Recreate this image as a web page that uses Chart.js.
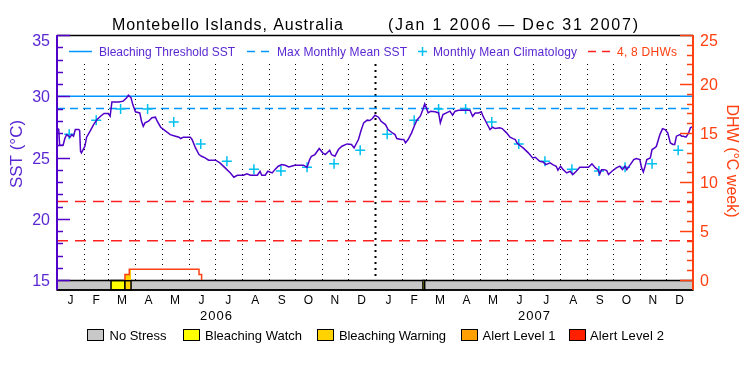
<!DOCTYPE html>
<html>
<head>
<meta charset="utf-8">
<script src="https://cdn.jsdelivr.net/npm/chart.js@4.4.0/dist/chart.umd.min.js"></script>
<style>
	html, body { margin: 0; padding: 0; background: #fff; }
</style>
</head>
<body>
<canvas id="sstChart" width="750" height="375"></canvas>
<script>
let months = ["J", "F", "M", "A", "M", "J", "J", "A", "S", "O", "N", "D"];
let years = [2006, 2007];

// daily SST, days counted from Jan 1 2006
let sstDays = [0, 2, 3, 7, 9, 11, 15, 17, 19, 21, 25, 26, 27, 28, 30, 32, 34, 38, 42, 46, 50, 54, 59, 61, 63, 71, 76, 80, 82, 85, 87, 90, 95, 97, 99, 101, 105, 109, 113, 115, 119, 124, 130, 136, 140, 142, 145, 153, 155, 159, 163, 166, 170, 174, 182, 187, 193, 199, 203, 207, 214, 218, 222, 230, 233, 235, 239, 242, 247,
	250, 254, 258, 262, 266, 269, 273, 283, 287, 290, 292, 296, 301, 305, 308, 313, 315, 319, 323, 327, 333, 338, 341, 343, 346, 349, 352, 356, 359, 362, 365, 369, 372, 377, 380, 384, 388, 390, 395, 398, 400, 403, 407, 410, 413, 417, 420, 422, 424, 426, 429, 434, 438, 440, 443, 447, 451, 454, 457, 461, 474, 477, 480, 484, 487, 489, 491,
	495, 497, 500, 503, 508, 511, 516, 520, 524, 526, 528, 531, 535, 541, 546, 549, 554, 558, 561, 566, 569, 573, 575, 578, 581, 585, 589, 592, 596, 600, 610, 614, 618, 621, 623, 625, 628, 631, 633, 637, 642, 646, 649, 652, 654, 658, 662, 665, 669, 671, 673, 675, 677, 681, 683, 686, 688, 692, 695, 698, 701, 704, 707, 709, 711, 715, 717, 719, 722, 725, 727, 729];
let sstValues = [27.40, 27.30, 26.00, 26.00, 26.55, 26.87, 26.66, 26.87, 26.74, 27.28, 27.28, 27.20, 25.50, 25.38, 25.65, 25.92, 26.66, 27.15, 27.69, 28.10, 28.37, 28.59, 28.59, 28.37, 29.54, 29.54, 29.60, 29.87, 30.09, 29.87, 29.32, 28.73, 28.64, 27.96, 27.55, 27.83, 27.96, 28.24, 28.29, 27.96, 27.47, 27.20, 26.87, 26.74, 26.66, 26.55, 26.66, 26.66, 26.47, 25.78, 25.24, 25.10, 24.97, 24.78, 24.78, 24.56, 24.15, 23.74, 23.39, 23.55, 23.55, 23.66, 23.55, 23.55, 23.88, 23.55, 23.55, 23.88, 23.74,
	24.01, 24.29, 24.42, 24.37, 24.23, 24.29, 24.37, 24.37, 24.20, 24.83, 25.10, 25.24, 25.73, 25.38, 25.24, 25.59, 25.24, 25.10, 25.65, 25.92, 26.11, 26.06, 25.78, 26.06, 26.47, 27.20, 27.83, 28.05, 28.02, 28.18, 28.45, 28.29, 27.96, 27.69, 27.28, 27.06, 26.87, 26.55, 26.47, 26.47, 26.19, 26.47, 27.01, 27.55, 28.05, 28.37, 28.92, 29.38, 29.05, 28.64, 28.78, 28.73, 28.64, 27.83, 28.50, 28.64, 28.78, 28.45, 28.78, 28.86, 28.86, 28.37, 28.64, 28.64, 28.73, 28.37, 28.10,
	27.55, 27.28, 27.47, 27.36, 27.42, 27.36, 27.01, 26.66, 26.52, 26.47, 26.19, 26.00, 25.78, 25.38, 24.97, 25.02, 24.69, 24.64, 24.42, 24.56, 24.42, 24.29, 23.96, 24.29, 24.01, 23.74, 23.88, 23.61, 23.88, 24.20, 24.20, 24.48, 24.15, 24.01, 23.66, 24.01, 24.01, 23.93, 23.61, 23.88, 24.15, 24.29, 24.01, 24.29, 24.01, 24.42, 24.83, 24.91, 24.83, 24.15, 23.82, 24.29, 24.83, 24.97, 25.65, 25.78, 25.92, 26.87, 27.36, 27.28, 27.01, 26.19, 26.06, 26.06, 26.74, 26.87, 26.74, 26.74, 26.66, 27.01, 27.42, 27.50];

// monthly mean climatology, Jan..Dec
let climValues = [26.9, 28.05, 28.95, 28.95, 27.9, 26.1, 24.7, 24.05, 23.9, 24.2, 24.5, 25.6];

let bleachThreshold = 30.0;
let maxMonthlyMean = 29.0;
let dhwLevels = [4, 8];

// degree heating weeks
let dhwDays = [78, 78, 83, 85, 163, 166];
let dhwValues = [0, 0.55, 1.1, 1.1, 0.55, 0];

// stress level periods
let stressNames = ["No Stress", "Bleaching Watch", "Bleaching Warning", "Alert Level 1", "Alert Level 2"];
let stressColors = ["#c8c8c8", "#ffff00", "#ffd200", "#ffa000", "#ff2000"];
let stressStart = [62, 78, 420];
let stressEnd = [78, 85, 422];
let stressLevel = [1, 2, 1];

let sstTicks = [15, 20, 25, 30, 35];
let dhwTicks = [0, 5, 10, 15, 20, 25];

const PURPLE = "#5000c8";
const PURPLE_TXT = "#5a28d2";
const ORANGE = "#ff4010";
const FONT = "'Liberation Sans', Arial, sans-serif";

const dayOf = (y, m, d) => Math.round((Date.UTC(y, m, d) - Date.UTC(2006, 0, 1)) / 86400000);

let monthStarts = [];
years.forEach((y) => {
	for (let m = 0; m < 12; m++) monthStarts.push(dayOf(y, m, 1));
});
monthStarts.push(dayOf(2008, 0, 1));

let climPoints = [];
years.forEach((y) => {
	climValues.forEach((v, m) => climPoints.push({ x: dayOf(y, m, 15), y: v }));
});

let sstPoints = sstDays.map((d, i) => ({ x: d, y: sstValues[i] }));
let dhwPoints = dhwDays.map((d, i) => ({ x: d, y: dhwValues[i] }));
let lastDay = monthStarts[monthStarts.length - 1];

const flat = (v) => [{ x: 0, y: v }, { x: lastDay, y: v }];

// DHW area under the curve coloured by stress level
let fillSets = [];
stressStart.forEach((s, i) => {
	let pts = dhwPoints.filter((p) => p.x >= s && p.x <= stressEnd[i]);
	if (!pts.length) return;
	pts.push({ x: stressEnd[i], y: 0 });
	fillSets.push({
		data: pts,
		yAxisID: "y1",
		stepped: true,
		fill: "origin",
		backgroundColor: stressColors[stressLevel[i]],
		borderWidth: 0,
		pointRadius: 0,
		order: 6,
	});
});

function drawText(ctx, text, x, y, size, color, width, align) {
	ctx.save();
	ctx.font = size + "px " + FONT;
	ctx.fillStyle = color;
	ctx.textBaseline = "alphabetic";
	ctx.textAlign = "left";
	ctx.letterSpacing = "0px";
	let w = ctx.measureText(text).width;
	if (width) {
		let ls = (width - w) / Math.max(text.length - 1, 1);
		ctx.letterSpacing = ls + "px";
		w = width;
	}
	let left = align === "center" ? x - w / 2 : align === "right" ? x - w : x;
	ctx.fillText(text, left, y);
	ctx.restore();
}

function hLine(ctx, x1, x2, y, color, width, dash) {
	ctx.save();
	ctx.strokeStyle = color;
	ctx.lineWidth = width;
	ctx.setLineDash(dash || []);
	ctx.beginPath();
	ctx.moveTo(x1, y);
	ctx.lineTo(x2, y);
	ctx.stroke();
	ctx.restore();
}

const decor = {
	id: "decor",
	beforeDraw(chart) {
		const ctx = chart.ctx;
		ctx.save();
		ctx.fillStyle = "#fff";
		ctx.fillRect(0, 0, chart.width, chart.height);
		ctx.restore();
	},
	beforeDatasetsDraw(chart) {
		const ctx = chart.ctx;
		const { x, y } = chart.scales;
		const area = chart.chartArea;
		const barTop = Math.round(y.getPixelForValue(sstTicks[0])) + 0.5;
		const barBottom = area.bottom;

		// month grid
		ctx.save();
		ctx.strokeStyle = "#000";
		monthStarts.forEach((d) => {
			if (d === 0 || d === lastDay) return;
			let px = Math.round(x.getPixelForValue(d)) + 0.5;
			let yearLine = d === dayOf(2007, 0, 1);
			ctx.lineWidth = yearLine ? 2 : 1;
			ctx.setLineDash(yearLine ? [2, 4] : [1, 4]);
			ctx.beginPath();
			ctx.moveTo(px, 64);
			ctx.lineTo(px, barTop);
			ctx.stroke();
		});
		ctx.restore();

		// stress bar
		ctx.save();
		ctx.fillStyle = stressColors[0];
		ctx.fillRect(area.left, barTop, area.right - area.left, barBottom - barTop);
		ctx.strokeStyle = "#000";
		ctx.lineWidth = 1.5;
		stressStart.forEach((s, i) => {
			let x1 = x.getPixelForValue(s);
			let x2 = x.getPixelForValue(stressEnd[i]);
			ctx.fillStyle = stressColors[stressLevel[i]];
			ctx.fillRect(x1, barTop, x2 - x1, barBottom - barTop);
			ctx.strokeRect(x1, barTop, x2 - x1, barBottom - barTop);
		});
		ctx.strokeRect(area.left, barTop, area.right - area.left, barBottom - barTop);
		ctx.restore();
	},
	afterDatasetsDraw(chart) {
		const ctx = chart.ctx;
		const { x, y, y1 } = chart.scales;
		const area = chart.chartArea;

		// frame
		hLine(ctx, area.left, area.right, area.top + 0.5, "#000", 1.5);
		hLine(ctx, area.left, area.right, area.bottom, "#000", 1.5);

		// left SST axis
		ctx.save();
		ctx.strokeStyle = PURPLE;
		ctx.lineWidth = 2;
		ctx.beginPath();
		ctx.moveTo(area.left, area.top);
		ctx.lineTo(area.left, area.bottom);
		ctx.stroke();
		ctx.lineWidth = 1.5;
		for (let v = sstTicks[0]; v <= sstTicks[sstTicks.length - 1]; v++) {
			let py = Math.round(y.getPixelForValue(v)) + 0.5;
			let len = sstTicks.includes(v) ? 13 : 6;
			ctx.beginPath();
			ctx.moveTo(area.left, py);
			ctx.lineTo(area.left + len, py);
			ctx.stroke();
		}
		ctx.restore();
		sstTicks.forEach((v) => {
			let py = Math.max(y.getPixelForValue(v), 39.5);
			drawText(ctx, String(v), 50, py + 6, 16, PURPLE_TXT, 0, "right");
		});

		// right DHW axis
		ctx.save();
		ctx.strokeStyle = ORANGE;
		ctx.lineWidth = 2;
		ctx.beginPath();
		ctx.moveTo(area.right, area.top);
		ctx.lineTo(area.right, area.bottom);
		ctx.stroke();
		ctx.lineWidth = 1.5;
		for (let v = dhwTicks[0]; v <= dhwTicks[dhwTicks.length - 1]; v++) {
			let py = Math.round(y1.getPixelForValue(v)) + 0.5;
			let len = dhwTicks.includes(v) ? 13 : 6;
			ctx.beginPath();
			ctx.moveTo(area.right, py);
			ctx.lineTo(area.right - len, py);
			ctx.stroke();
		}
		ctx.restore();
		dhwTicks.forEach((v) => {
			let py = Math.max(y1.getPixelForValue(v), 39.5);
			drawText(ctx, String(v), 700, py + 6, 16, ORANGE, 0, "left");
		});

		// axis titles
		ctx.save();
		ctx.translate(22, 154);
		ctx.rotate(-Math.PI / 2);
		drawText(ctx, "SST (°C)", 0, 0, 17, PURPLE_TXT, 0, "center");
		ctx.restore();
		ctx.save();
		ctx.translate(727, 161);
		ctx.rotate(Math.PI / 2);
		drawText(ctx, "DHW (°C week)", 0, 0, 16, ORANGE, 113, "center");
		ctx.restore();

		// month and year labels
		for (let i = 0; i < monthStarts.length - 1; i++) {
			let mid = x.getPixelForValue((monthStarts[i] + monthStarts[i + 1]) / 2);
			drawText(ctx, months[i % 12], mid, 303.5, 12, "#000", 0, "center");
		}
		years.forEach((yr) => {
			let mid = x.getPixelForValue((dayOf(yr, 0, 1) + dayOf(yr + 1, 0, 1)) / 2);
			drawText(ctx, String(yr), mid, 319.5, 13, "#000", 32, "center");
		});

		// title
		drawText(ctx, "Montebello Islands, Australia", 112, 29.5, 16, "#000", 231, "left");
		drawText(ctx, "(Jan 1 2006 — Dec 31 2007)", 388, 29.5, 16, "#000", 250, "left");

		// top legend
		hLine(ctx, 69, 92, 51.5, "#0096ff", 1.5);
		drawText(ctx, "Bleaching Threshold SST", 99, 55.5, 12, PURPLE_TXT, 136, "left");
		hLine(ctx, 247, 269, 51.5, "#0096ff", 1.5, [8, 6]);
		drawText(ctx, "Max Monthly Mean SST", 277, 55.5, 12, PURPLE_TXT, 130, "left");
		ctx.save();
		ctx.strokeStyle = "#00c0f0";
		ctx.lineWidth = 1.5;
		ctx.beginPath();
		ctx.moveTo(418, 51.5);
		ctx.lineTo(427, 51.5);
		ctx.moveTo(422.5, 47);
		ctx.lineTo(422.5, 56);
		ctx.stroke();
		ctx.restore();
		drawText(ctx, "Monthly Mean Climatology", 433, 55.5, 12, PURPLE_TXT, 144, "left");
		hLine(ctx, 588, 610, 51.5, "#ff2020", 1.5, [8, 6]);
		drawText(ctx, "4, 8 DHWs", 617, 55.5, 12, ORANGE, 60, "left");

		// stress legend
		let boxX = [87, 183, 317, 461, 569];
		let textX = [109.5, 205, 339, 482.5, 590];
		let textW = [57, 97, 107, 73, 74];
		stressNames.forEach((name, i) => {
			ctx.save();
			ctx.fillStyle = stressColors[i];
			ctx.fillRect(boxX[i] + 0.5, 329.5, 16, 11);
			ctx.strokeStyle = "#000";
			ctx.lineWidth = 1;
			ctx.strokeRect(boxX[i] + 0.5, 329.5, 16, 11);
			ctx.restore();
			drawText(ctx, name, textX[i], 340, 13, "#000", textW[i], "left");
		});
	},
};

let sstChart = document.getElementById("sstChart");

let chartData = {
	datasets: [
		{
			label: "SST",
			data: sstPoints,
			yAxisID: "y",
			borderColor: PURPLE,
			borderWidth: 1.5,
			pointRadius: 0,
			order: 0,
		},
		{
			label: "Monthly Mean Climatology",
			data: climPoints,
			yAxisID: "y",
			showLine: false,
			pointStyle: "cross",
			pointRadius: 5,
			borderColor: "#00c0f0",
			borderWidth: 1.5,
			order: 1,
		},
		{
			label: "Bleaching Threshold SST",
			data: flat(bleachThreshold),
			yAxisID: "y",
			borderColor: "#0096ff",
			borderWidth: 1.5,
			pointRadius: 0,
			order: 2,
		},
		{
			label: "Max Monthly Mean SST",
			data: flat(maxMonthlyMean),
			yAxisID: "y",
			borderColor: "#0096ff",
			borderWidth: 1.5,
			borderDash: [8, 5],
			pointRadius: 0,
			order: 3,
		},
		...dhwLevels.map((v) => ({
			label: v + " DHW",
			data: flat(v),
			yAxisID: "y1",
			borderColor: "#ff2020",
			borderWidth: 1.5,
			borderDash: [11, 7],
			pointRadius: 0,
			order: 4,
		})),
		{
			label: "DHW",
			data: dhwPoints,
			yAxisID: "y1",
			stepped: true,
			borderColor: ORANGE,
			borderWidth: 1.5,
			pointRadius: 0,
			order: 5,
		},
		...fillSets,
	],
};

let chart = new Chart(sstChart, {
	type: "line",
	data: chartData,
	options: {
		responsive: false,
		animation: false,
		devicePixelRatio: 1,
		layout: { padding: { left: 57, right: 57, top: 35, bottom: 85 } },
		scales: {
			x: { type: "linear", min: 0, max: lastDay, display: false },
			y: { min: 15 - 10 / 12.25, max: 35, display: false },
			y1: { min: -10 / 9.8, max: 25, display: false, position: "right" },
		},
		plugins: {
			legend: { display: false },
			tooltip: { enabled: false },
		},
	},
	plugins: [decor],
});
</script>
</body>
</html>
